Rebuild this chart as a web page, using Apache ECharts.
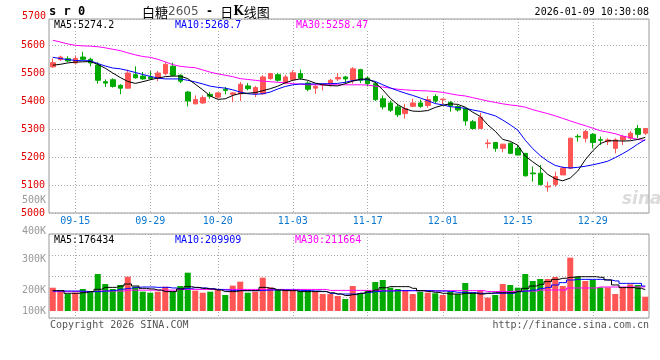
<!DOCTYPE html>
<html><head><meta charset="utf-8">
<script src="https://cdn.jsdelivr.net/npm/echarts@6/dist/echarts.min.js"></script>
<style>html,body{margin:0;padding:0;background:#fff}#c{width:660px;height:360px}</style>
</head><body><div id="c"></div>
<script>
// ---- data ----
const dates = ['09-10','09-11','09-12','09-15','09-16','09-17','09-18','09-19','09-22','09-23','09-24','09-25','09-26','09-29','09-30',
'10-09','10-10','10-13','10-14','10-15','10-16','10-17','10-20','10-21','10-22','10-23','10-24','10-27','10-28','10-29','10-30','10-31',
'11-03','11-04','11-05','11-06','11-07','11-10','11-11','11-12','11-13','11-14','11-17','11-18','11-19','11-20','11-21','11-24','11-25','11-26','11-27','11-28',
'12-01','12-02','12-03','12-04','12-05','12-08','12-09','12-10','12-11','12-12','12-15','12-16','12-17','12-18','12-19','12-22','12-23','12-24','12-25','12-26','12-29','12-30','12-31',
'01-05','01-06','01-07','01-08','01-09'];
const tickLabels = ['09-15','09-29','10-20','11-03','11-17','12-01','12-15','12-29'];

const openP = [5522,5548,5551,5536,5557,5549,5529,5469,5476,5456, 5446,5494,5489,5486,5482,5498,5524,5492,5432,5390,
 5393,5424,5414,5442,5424,5426,5454,5426,5426,5480, 5494,5464,5476,5498,5464,5446,5457,5462,5479,5486,
 5474,5512,5482,5462,5408,5393,5379,5355,5381,5393, 5384,5416,5405,5395,5380,5374,5326,5302,5248,5252,
 5231,5249,5231,5213,5143,5142,5093,5102,5136,5160, 5274,5267,5281,5262,5255,5231,5261,5267,5302,5285];
const closeP = [5537,5557,5543,5552,5549,5536,5474,5464,5452,5446, 5500,5483,5479,5480,5500,5531,5492,5471,5400,5405,
 5412,5417,5429,5438,5429,5460,5444,5448,5486,5498, 5474,5486,5501,5482,5442,5452,5459,5474,5484,5479,
 5515,5474,5462,5405,5379,5367,5351,5373,5393,5381, 5405,5400,5407,5383,5368,5329,5302,5342,5250,5231,
 5246,5213,5207,5133,5140,5102,5096,5130,5160,5267, 5272,5291,5252,5260,5261,5261,5273,5285,5281,5302];
const lowP = [5518,5543,5539,5533,5545,5524,5462,5450,5448,5424, 5444,5480,5476,5476,5471,5492,5488,5464,5381,5388,
 5390,5408,5408,5424,5396,5400,5438,5414,5423,5476, 5469,5460,5471,5476,5435,5426,5438,5452,5471,5462,
 5462,5464,5452,5400,5370,5361,5343,5337,5378,5376, 5376,5393,5388,5362,5362,5312,5298,5300,5231,5219,
 5217,5213,5207,5130,5112,5098,5076,5094,5136,5157, 5255,5252,5231,5243,5243,5213,5243,5261,5267,5279];
const highP = [5552,5562,5560,5562,5576,5555,5539,5477,5481,5460, 5512,5524,5504,5507,5507,5539,5537,5495,5436,5420,
 5420,5432,5432,5450,5432,5468,5464,5454,5492,5500, 5500,5494,5510,5512,5471,5460,5462,5479,5500,5490,
 5521,5515,5488,5468,5420,5402,5390,5390,5408,5405, 5417,5424,5408,5400,5386,5376,5332,5358,5263,5252,
 5246,5252,5243,5213,5166,5172,5112,5148,5166,5269, 5281,5297,5285,5273,5267,5267,5279,5293,5314,5302];

const ma5 = [5528,5531,5536,5539,5540,5541,5531,5517,5500,5484, 5470,5463,5469,5476,5482,5487,5489,5489,5480,5460,
 5440,5418,5406,5408,5420,5427,5428,5430,5437,5444, 5453,5465,5474,5479,5474,5464,5458,5455,5454,5462,
 5471,5478,5479,5466,5440,5410,5387,5372,5364,5363, 5366,5377,5385,5390,5388,5378,5360,5345,5315,5292,
 5263,5256,5242,5203,5183,5164,5138,5122,5115,5125, 5150,5190,5222,5248,5258,5258,5257,5258,5263,5270];
const ma10 = [5556,5552,5548,5545,5544,5544,5534,5525,5518,5515, 5509,5502,5495,5488,5482,5479,5479,5479,5474,5468,
 5461,5453,5449,5446,5440,5432,5426,5424,5426,5432, 5443,5452,5458,5461,5461,5461,5462,5462,5463,5467,
 5473,5476,5476,5470,5458,5447,5437,5428,5420,5411, 5401,5391,5386,5380,5377,5374,5368,5363,5355,5347,
 5332,5315,5296,5260,5230,5205,5185,5170,5163,5161, 5163,5167,5172,5178,5185,5198,5212,5228,5246,5262];
const ma30 = [5617,5611,5604,5599,5597,5596,5594,5590,5585,5580, 5572,5565,5559,5556,5549,5540,5530,5524,5521,5519,
 5511,5503,5497,5492,5487,5480,5477,5474,5471,5469, 5467,5465,5462,5460,5458,5458,5458,5458,5458,5458,
 5458,5458,5457,5453,5450,5446,5442,5440,5438,5437, 5436,5434,5431,5426,5421,5418,5412,5406,5400,5395,
 5390,5386,5383,5378,5369,5362,5355,5347,5338,5329, 5320,5312,5303,5294,5289,5283,5275,5269,5263,5258.47];

const volume = [192000,159500,140000,151000,181500,159500,305000,222500,181500,214500,
 283000,200500,159500,151000,159500,200500,159500,206000,316000,168000,
 151000,159500,173000,132000,209000,242000,151000,159500,275000,195000,
 173000,173000,173000,165000,173000,159500,140000,140000,124000,99000,
 206000,146000,173000,239000,256000,192500,181500,173000,140000,159500,
 151000,146000,132000,159500,140000,231000,151000,173000,110000,132000,
 222500,214500,192500,305000,247500,264000,264000,280500,206000,440000,
 283000,247500,256000,195000,195000,140000,192500,220000,214500,118000];
const volMa5 = [168000,168000,146000,146000,151000,160000,179000,195000,195000,206000,
 223000,206000,187000,182000,173000,160000,160000,182000,201000,195000,
 187000,182000,173000,160000,160000,168000,168000,168000,195000,187000,
 173000,168000,168000,160000,160000,160000,160000,150000,140000,128000,
 135000,146000,160000,173000,192000,201000,201000,201000,187000,168000,
 160000,154000,146000,140000,140000,146000,146000,140000,146000,151000,
 151000,151000,160000,187000,206000,220000,242000,261000,270000,278000,
 283000,283000,283000,278000,256000,215000,193000,193000,187000,176434];
const volMa10 = [165000,165000,165000,165000,163000,160000,160000,165000,170000,180000,
 187000,195000,198000,198000,195000,195000,190000,182000,187000,192000,
 190000,184000,178000,173000,170000,168000,168000,168000,170000,173000,
 173000,173000,172000,170000,168000,165000,162000,146000,140000,140000,
 140000,146000,154000,160000,165000,165000,168000,168000,168000,168000,
 168000,165000,165000,160000,154000,151000,151000,146000,146000,146000,
 146000,146000,160000,165000,173000,187000,195000,215000,234000,256000,
 261000,261000,261000,261000,256000,248000,228000,228000,228000,206000];
const volMa30 = [160000,160000,160000,160000,160000,160000,165000,165000,165000,165000,
 172000,172000,172000,172000,172000,172000,172000,178000,178000,178000,
 178000,178000,178000,178000,178000,178000,178000,178000,178000,178000,
 178000,178000,178000,178000,178000,178000,178000,170000,170000,170000,
 170000,170000,170000,170000,167000,167000,167000,167000,167000,167000,
 167000,167000,167000,168000,168000,168000,168000,168000,161000,161000,
 161000,161000,165000,165000,165000,173000,173000,173000,173000,190000,
 190000,190000,190000,198000,198000,198000,198000,198000,198000,200000];

const volAxisLabels = ['400K','300K','200K','100K'];
const maLegend = ['MA5:5274.2','MA10:5268.7','MA30:5258.47'];
const volLegend = ['MA5:176434','MA10:209909','MA30:211664'];

// ---- styles ----
const RED = '#ff5555', GREEN = '#00aa00';
const MONO = '"DejaVu Sans Mono", monospace';
const GRID_LINE = {color:'#aaaaaa', type:[1,2], width:1};
const isTick = (idx, val) => tickLabels.indexOf(val) >= 0;

const chart = echarts.init(document.getElementById('c'), null, {renderer:'canvas'});

const candleData = openP.map((o, i) => [o, closeP[i], lowP[i], highP[i]]);
const volData = volume.map((v, i) => ({value: v, itemStyle: {color: closeP[i] >= openP[i] ? RED : GREEN}}));

function txt(text, x, y, fill, opts) {
  opts = opts || {};
  return {type:'text', x:x, y:y, silent:true, z:100,
    style:Object.assign({text:text, fill:fill, font:'10px ' + MONO, align:'left', verticalAlign:'middle'}, opts)};
}

const volLabelY = [231, 259, 290, 311];
const graphics = [
  txt('5700', 46, 16, '#e00000', {align:'right'}),
  txt('s r 0', 49, 12, '#000', {font:'bold 12px ' + MONO}),
  {type:'text', x:142, y:12, silent:true, z:100, style:{
    text:'{a|白糖}{b|2605}{c|  -  }{a|日}{k|K}{a|线图}', verticalAlign:'middle',
    rich:{a:{font:'13px "Noto Sans CJK SC"', fill:'#000'},
          b:{font:'12px "DejaVu Sans"', fill:'#555'},
          c:{font:'bold 12px "DejaVu Sans"', fill:'#000'},
          k:{font:'bold 12px "DejaVu Serif"', fill:'#000'}}}},
  txt('2026-01-09 10:30:08', 649, 12, '#000', {align:'right'}),
  txt(maLegend[0], 54, 25, '#000', {backgroundColor:'#fff'}),
  txt(maLegend[1], 175, 25, '#0000ff', {backgroundColor:'#fff'}),
  txt(maLegend[2], 296, 25, '#ff00ff', {backgroundColor:'#fff'}),
  txt('500K', 46, 200, '#999', {align:'right'}),
  txt(volLegend[0], 54, 240, '#000', {backgroundColor:'#fff'}),
  txt(volLegend[1], 175, 240, '#0000ff', {backgroundColor:'#fff'}),
  txt(volLegend[2], 295, 240, '#ff00ff', {backgroundColor:'#fff'}),
  txt('Copyright 2026 SINA.COM', 50, 325, '#555'),
  txt('http://finance.sina.com.cn', 649, 325, '#555', {align:'right'}),
  {type:'text', x:622, y:200, silent:true, z:1, style:{text:'sina', fill:'rgba(175,175,175,0.45)', font:'italic bold 17px "DejaVu Sans"', verticalAlign:'middle'}}
].concat(volAxisLabels.map((t, i) => txt(t, 46, volLabelY[i], '#999', {align:'right'})));

const option = {
  animation:false,
  backgroundColor:'#fff',
  grid:[
    {left:49, top:19, width:600, height:194, show:true, borderColor:'#999', borderWidth:1},
    {left:49, top:234, width:600, height:77},
    {left:49, top:234, width:600, height:84, show:true, borderColor:'#999', borderWidth:1}
  ],
  xAxis:[
    {type:'category', gridIndex:0, data:dates, boundaryGap:true,
     axisLine:{show:false}, axisTick:{show:false},
     axisLabel:{interval:isTick, color:'#0b78d1', fontFamily:MONO, fontSize:10, margin:3},
     splitLine:{show:true, interval:isTick, alignWithLabel:true, lineStyle:GRID_LINE}},
    {type:'category', gridIndex:1, data:dates, boundaryGap:true, show:false},
    {type:'category', gridIndex:2, data:dates, boundaryGap:true,
     axisLine:{show:false}, axisTick:{show:false}, axisLabel:{show:false},
     splitLine:{show:true, interval:isTick, alignWithLabel:true, lineStyle:GRID_LINE}}
  ],
  yAxis:[
    {type:'value', gridIndex:0, min:5000, max:5693, interval:100,
     axisLine:{show:false}, axisTick:{show:false},
     axisLabel:{color:'#e00000', fontFamily:MONO, fontSize:10, margin:4, showMaxLabel:false,
       formatter: v => (v % 100 === 0 ? String(v) : '')},
     splitLine:{show:true, lineStyle:GRID_LINE}},
    {type:'value', gridIndex:1, min:0, max:635250, show:false, splitLine:{show:false}},
    {type:'value', gridIndex:2, min:0, max:4, interval:1,
     axisLine:{show:false}, axisTick:{show:false}, axisLabel:{show:false},
     splitLine:{show:true, lineStyle:GRID_LINE}}
  ],
  series:[
    {type:'candlestick', xAxisIndex:0, yAxisIndex:0, data:candleData, barWidth:5,
     itemStyle:{color:RED, color0:GREEN, borderColor:RED, borderColor0:GREEN, borderWidth:1}},
    {type:'line', xAxisIndex:0, yAxisIndex:0, data:ma30, symbol:'none', lineStyle:{color:'#ff00ff', width:1}},
    {type:'line', xAxisIndex:0, yAxisIndex:0, data:ma10, symbol:'none', lineStyle:{color:'#0000ff', width:1}},
    {type:'line', xAxisIndex:0, yAxisIndex:0, data:ma5, symbol:'none', lineStyle:{color:'#000000', width:1}},
    {type:'bar', xAxisIndex:1, yAxisIndex:1, data:volData, barWidth:6},
    {type:'line', xAxisIndex:1, yAxisIndex:1, data:volMa30, step:'middle', symbol:'none', lineStyle:{color:'#ff00ff', width:1}},
    {type:'line', xAxisIndex:1, yAxisIndex:1, data:volMa10, step:'middle', symbol:'none', lineStyle:{color:'#0000ff', width:1}},
    {type:'line', xAxisIndex:1, yAxisIndex:1, data:volMa5, step:'middle', symbol:'none', lineStyle:{color:'#000000', width:1}}
  ],
  graphic:graphics
};
chart.setOption(option);
</script>
</body></html>
